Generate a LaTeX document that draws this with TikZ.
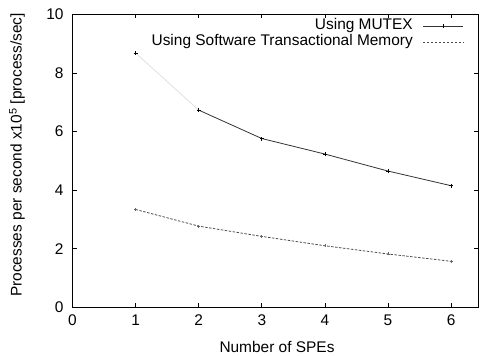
\documentclass[tikz,border=0pt]{standalone}
\usepackage{fontspec}
\setmainfont{Liberation Sans}
\usetikzlibrary{calc}
\begin{document}
\begin{tikzpicture}[
  lbl/.style={font=\fontsize{15.5}{18}\selectfont, inner sep=0pt},
  frame/.style={line width=1.1pt, black},
  tck/.style={line width=0.7pt, black},
  mutex/.style={line width=0.8pt, black!80},
  stm/.style={line width=0.8pt, black!70, dash pattern=on 2.5pt off 1.5pt},
  pmark/.style={line width=0.7pt, black}
]
\useasboundingbox (0,0) rectangle (480bp,356bp);
\begin{scope}[shift={(72.5bp,48.7bp)}, x=63.1bp, y=29.3bp]
  % frame
  \coordinate (ll) at (0,0);
  \coordinate (ur) at (6.43,10);
  \draw[frame] (ll) rectangle (ur);
  % ticks x
  \foreach \i in {0,...,6} {
    \draw[tck] (\i,0) -- ++(0,4bp);
    \draw[tck] (\i,10) -- ++(0,-4bp);
    \node[lbl, anchor=north] (xt\i) at (\i,-0.25) {\i};
  }
  % ticks y
  \foreach \j in {0,2,...,10} {
    \draw[tck] (0,\j) -- ++(4bp,0);
    \draw[tck] (6.43,\j) -- ++(-4bp,0);
    \node[lbl, anchor=east] (yt\j) at (-0.14,\j) {\j};
  }
  % MUTEX data
  \coordinate (m1) at (1,8.68);
  \coordinate (m2) at (2,6.73);
  \coordinate (m3) at (3,5.76);
  \coordinate (m4) at (4,5.23);
  \coordinate (m5) at (5,4.65);
  \coordinate (m6) at (6,4.15);
  \draw[mutex, black!12] (m1) -- (m2);
  \draw[mutex] (m2) -- (m3) -- (m4) -- (m5) -- (m6);
  \foreach \p in {m1,m2,m3,m4,m5,m6} {
    \draw[pmark] ($(\p)+(-2bp,0)$) -- ($(\p)+(2bp,0)$);
    \draw[pmark] ($(\p)+(0,-2bp)$) -- ($(\p)+(0,2bp)$);
  }
  % STM data
  \coordinate (s1) at (1,3.34);
  \coordinate (s2) at (2,2.77);
  \coordinate (s3) at (3,2.42);
  \coordinate (s4) at (4,2.10);
  \coordinate (s5) at (5,1.82);
  \coordinate (s6) at (6,1.57);
  \draw[stm] (s1) -- (s2) -- (s3) -- (s4) -- (s5) -- (s6);
  \foreach \p in {s1,s2,s3,s4,s5,s6} {
    \draw[pmark, black!60] ($(\p)+(-1.5bp,0)$) -- ($(\p)+(1.5bp,0)$);
    \draw[pmark, black!60] ($(\p)+(0,-1.5bp)$) -- ($(\p)+(0,1.5bp)$);
  }
\end{scope}
% legend
\node[lbl, anchor=east] (lg1) at (413bp,330bp) {Using MUTEX};
\node[lbl, anchor=east] (lg2) at (413bp,314bp) {Using Software Transactional Memory};
\coordinate (la1) at (423bp,330bp);
\coordinate (lb1) at (463bp,330bp);
\coordinate (la2) at (423bp,314bp);
\coordinate (lb2) at (463bp,314bp);
\draw[mutex] (la1) -- (lb1);
\draw[pmark] (443bp,328bp) -- (443bp,332bp);
\draw[stm] (la2) -- (lb2);
% axis labels
\node[lbl] (xlab) at (277bp,9bp) {Number of SPEs};
\node[lbl, rotate=90] (ylab) at (17bp,201bp) {Processes per second x10\textsuperscript{5} [process/sec]};
\end{tikzpicture}
\end{document}
